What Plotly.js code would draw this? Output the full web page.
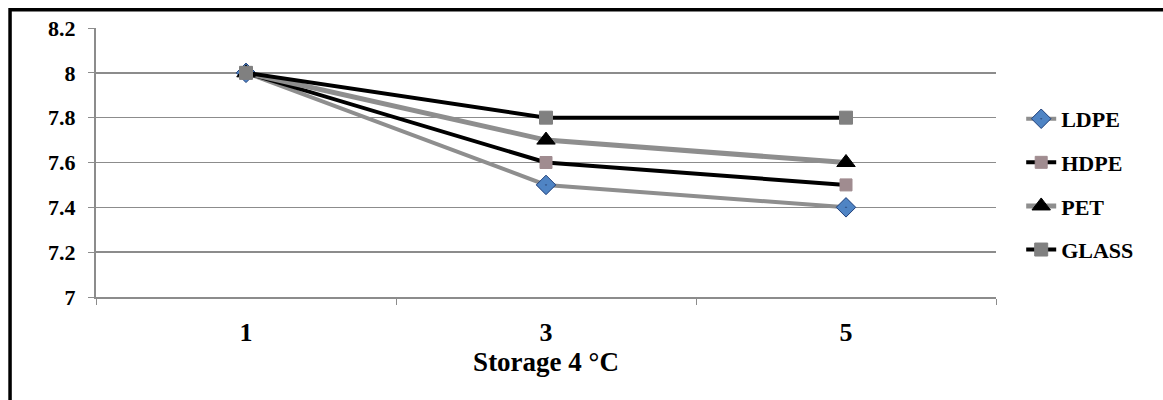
<!DOCTYPE html>
<html>
<head>
<meta charset="utf-8">
<script src="https://cdn.plot.ly/plotly-3.0.1.min.js"></script>
<style>html,body{margin:0;padding:0;background:#fff;}#chart{width:1163px;height:400px;}</style>
</head>
<body>
<div id="chart"></div>
<script>
const categories = ['1', '3', '5'];
const seriesNames = ['LDPE', 'HDPE', 'PET', 'GLASS'];
const ldpe = [8.0, 7.5, 7.4];
const hdpe = [8.0, 7.6, 7.5];
const pet = [8.0, 7.7, 7.6];
const glass = [8.0, 7.8, 7.8];
const yTicks = [7, 7.2, 7.4, 7.6, 7.8, 8, 8.2];

const serif = 'Liberation Serif, Times New Roman, serif';

const traces = [
  {name: seriesNames[0], y: ldpe, line: {color: '#8e8e8e', width: 4},
   marker: {symbol: 'diamond-dot', size: 15, color: '#4f84c4', line: {color: '#1f3f7a', width: 1}}},
  {name: seriesNames[1], y: hdpe, line: {color: '#000000', width: 4},
   marker: {symbol: 'square', size: 12, color: '#a08c90', line: {color: '#a08c90', width: 1}}},
  {name: seriesNames[2], y: pet, line: {color: '#8e8e8e', width: 5},
   marker: {symbol: 'triangle-up', size: 16, color: '#000000', line: {color: '#000000', width: 1}}},
  {name: seriesNames[3], y: glass, line: {color: '#000000', width: 4},
   marker: {symbol: 'square', size: 13, color: '#808080', line: {color: '#808080', width: 1}}}
].map((t, i) => Object.assign({
  type: 'scatter', mode: 'lines+markers', x: categories, legendgroup: 'g' + i
}, t));

const layout = {
  width: 1163, height: 400,
  margin: {l: 96, r: 167, t: 28, b: 103},
  paper_bgcolor: '#ffffff', plot_bgcolor: '#ffffff',
  showlegend: true,
  legend: {x: 1.028, y: 0.74, xanchor: 'left', yanchor: 'top',
           font: {family: serif, size: 22, color: '#000', weight: 'bold'}, tracegroupgap: 12,
           bgcolor: 'rgba(0,0,0,0)'},
  xaxis: {type: 'category', range: [-0.5, 2.5], showgrid: false,
          showline: true, linecolor: '#8c8c8c', linewidth: 2,
          ticks: 'outside', tickson: 'boundaries', ticklen: 6, tickcolor: '#8c8c8c',
          ticklabelstandoff: 11,
          tickfont: {family: serif, size: 26, color: '#000', weight: 'bold'},
          title: {text: '<b>Storage 4 °C</b>', standoff: 2,
                  font: {family: serif, size: 27, color: '#000'}},
          zeroline: false, fixedrange: true},
  yaxis: {range: [7, 8.2], tickvals: yTicks, showgrid: true, gridcolor: '#8c8c8c', gridwidth: 1.5,
          showline: true, linecolor: '#8c8c8c', linewidth: 2,
          ticks: 'outside', ticklen: 6, tickcolor: '#8c8c8c',
          ticklabelstandoff: 8,
          tickfont: {family: serif, size: 22, color: '#000', weight: 'bold'},
          zeroline: false, fixedrange: true},
  shapes: [
    {type: 'path', xref: 'paper', yref: 'paper',
     path: 'M -0.0955 -0.5 L -0.0955 1.0675 L 1.3 1.0675',
     line: {color: '#000', width: 3.5}}
  ]
};

Plotly.newPlot('chart', traces, layout, {displayModeBar: false, staticPlot: true});
</script>
</body>
</html>
